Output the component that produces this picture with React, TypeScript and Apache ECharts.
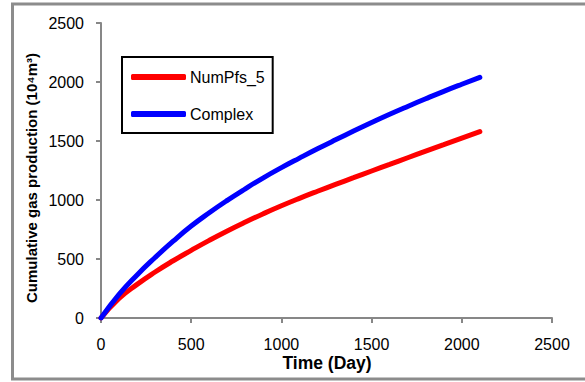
import React, { useEffect, useRef } from "react";
import * as echarts from "echarts";

const days = [0, 100, 200, 300, 400, 500, 600, 700, 800, 900, 1000, 1100, 1200, 1300, 1400, 1500, 1600, 1700, 1800, 1900, 2000, 2100];
const numPfs5 = [0, 165, 285, 390, 485, 573, 658, 738, 813, 884, 951, 1014, 1074, 1132, 1189, 1246, 1302, 1358, 1414, 1469, 1524, 1579];
const complexVals = [0, 200, 365, 513, 651, 779, 892, 997, 1095, 1188, 1274, 1355, 1434, 1510, 1584, 1656, 1726, 1793, 1858, 1921, 1981, 2039];
const seriesNames = ["NumPfs_5", "Complex"];
const xTitle = "Time (Day)";
const yTitle = "Cumulative gas production (10⁴m³)";

const FONT = "Liberation Sans";
const AXIS_COLOR = "#878787";

export default function App() {
  const ref = useRef<HTMLDivElement>(null);
  useEffect(() => {
    if (!ref.current) return;
    const chart = echarts.init(ref.current, undefined, { renderer: "svg" });
    const mk = (vals: number[]) => days.map((d, i) => [d, vals[i]]);
    const fmt = (v: number) => String(v);
    chart.setOption({
      animation: false,
      backgroundColor: "#ffffff",
      textStyle: { fontFamily: FONT },
      grid: { left: 101, right: 33, top: 23, bottom: 64 },
      legend: {
        orient: "vertical",
        left: 122,
        top: 57,
        padding: [12, 8, 11, 9],
        itemGap: 21,
        itemWidth: 55,
        itemHeight: 6,
        icon: "roundRect",
        borderColor: "#000",
        borderWidth: 2,
        backgroundColor: "#fff",
        textStyle: { fontFamily: FONT, fontSize: 16, color: "#000", lineHeight: 16, padding: [0, 0, 0, -1] },
        data: seriesNames,
      },
      xAxis: {
        type: "value",
        min: 0,
        max: 2500,
        interval: 500,
        axisLine: { show: true, lineStyle: { color: AXIS_COLOR, width: 2 } },
        axisTick: { show: true, length: 5, lineStyle: { color: AXIS_COLOR, width: 2 } },
        axisLabel: { margin: 18, fontFamily: FONT, fontSize: 16, color: "#000", formatter: fmt },
        splitLine: { show: false },
      },
      yAxis: {
        type: "value",
        min: 0,
        max: 2500,
        interval: 500,
        axisLine: { show: true, lineStyle: { color: AXIS_COLOR, width: 2 } },
        axisTick: { show: true, length: 5, lineStyle: { color: AXIS_COLOR, width: 2 } },
        axisLabel: { margin: 17, fontFamily: FONT, fontSize: 16, color: "#000", formatter: fmt },
        splitLine: { show: false },
      },
      graphic: [
        {
          type: "rect",
          silent: true,
          z: -10,
          shape: { x: 12.5, y: 4, width: 590, height: 375 },
          style: { fill: "none", stroke: "#8c8c8c", lineWidth: 3 },
        },
        {
          type: "text",
          x: 327,
          y: 363,
          style: {
            text: xTitle,
            font: `bold 17.5px "${FONT}"`,
            fill: "#000",
            align: "center",
            verticalAlign: "middle",
          },
        },
        {
          type: "text",
          x: 31,
          y: 178,
          rotation: Math.PI / 2,
          style: {
            text: yTitle,
            font: `bold 15px "${FONT}"`,
            fill: "#000",
            align: "center",
            verticalAlign: "middle",
          },
        },
      ],
      series: [
        {
          name: seriesNames[0],
          type: "line",
          smooth: true,
          showSymbol: false,
          data: mk(numPfs5),
          color: "#ff0000",
          lineStyle: { width: 5, color: "#ff0000", cap: "round" },
        },
        {
          name: seriesNames[1],
          type: "line",
          smooth: true,
          showSymbol: false,
          data: mk(complexVals),
          color: "#0000ff",
          lineStyle: { width: 5, color: "#0000ff", cap: "round" },
        },
      ],
    });
    return () => chart.dispose();
  }, []);
  return <div ref={ref} style={{ position: "fixed", left: 0, top: 0, width: 585, height: 382 }} />;
}
